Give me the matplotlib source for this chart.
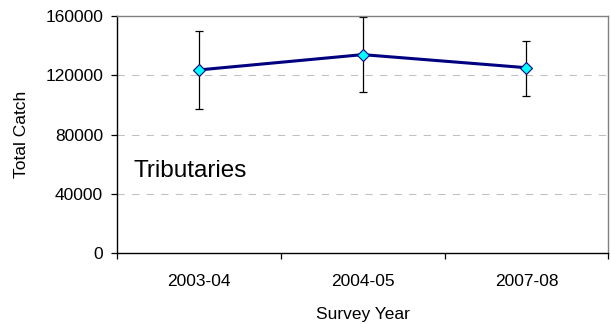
import numpy as np
import matplotlib
matplotlib.use("Agg")
from matplotlib import pyplot as plt

plt.rcParams['font.family'] = ['Liberation Sans', 'DejaVu Sans']

years = ["2003-04", "2004-05", "2007-08"]
catch = [123500, 133800, 125000]
catch_low = [97400, 108400, 105900]
catch_high = [149700, 159300, 143200]
y_ticks = [0, 40000, 80000, 120000, 160000]

x = np.arange(len(years))
mean = np.array(catch)
err = [mean - np.array(catch_low), np.array(catch_high) - mean]

fig = plt.figure(figsize=(6.11, 3.24), dpi=100)
ax = fig.add_axes([0.1915, 0.218, 0.8041, 0.7335])

# light dashed gridlines behind the series
for v in y_ticks[1:-1]:
    ax.axhline(v, color='#c0c0c0', linewidth=0.75, linestyle=(0, (7, 7)), zorder=0)

ax.errorbar(x, mean, yerr=err, fmt='none', ecolor='black', elinewidth=0.9,
            capsize=3, capthick=0.9, zorder=2)
ax.plot(x, mean, color='#000080', linewidth=2.2, marker='D', markersize=6.5,
        markerfacecolor='#00ffff', markeredgecolor='#000080', markeredgewidth=0.8,
        zorder=3)

ax.set_xlim(-0.5, 2.5)
ax.set_ylim(0, 160000)
ax.set_yticks(y_ticks)
ax.set_xticks(x)
ax.set_xticklabels(years)
ax.set_xticks([-0.5, 0.5, 1.5, 2.5], minor=True)
ax.tick_params(axis='x', which='major', length=0, pad=14.5, labelsize=12.5)
ax.tick_params(axis='x', which='minor', length=4, width=0.9, direction='out')
ax.tick_params(axis='y', length=4, width=0.9, direction='out', pad=6, labelsize=12.5)

for side in ['left', 'bottom']:
    ax.spines[side].set_color('black')
    ax.spines[side].set_linewidth(1.0)
for side in ['top', 'right']:
    ax.spines[side].set_color('#808080')
    ax.spines[side].set_linewidth(1.0)

ax.set_xlabel("Survey Year", fontsize=12.5, labelpad=13)
ax.set_ylabel("Total Catch", fontsize=12.5, labelpad=12)

ax.text(0.033, 0.321, "Tributaries", transform=ax.transAxes, fontsize=17.5,
        va='baseline', ha='left')

fig.savefig("out.png", dpi=100)
